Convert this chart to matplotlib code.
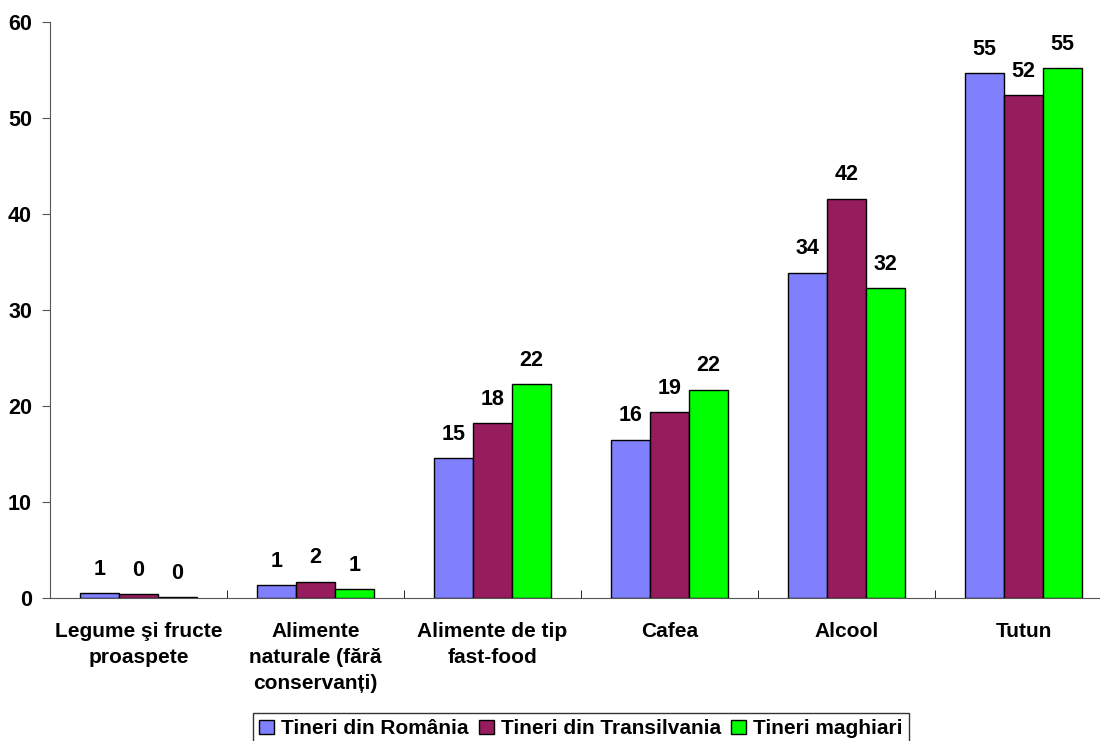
import numpy as np
import matplotlib
matplotlib.use('Agg')
import matplotlib.pyplot as plt

plt.rcParams['font.family'] = ['Liberation Sans', 'DejaVu Sans']
plt.rcParams['font.weight'] = 'bold'

# date
categorii = ['Legume şi fructe\nproaspete', 'Alimente\nnaturale (fără\nconservanți)',
             'Alimente de tip\nfast-food', 'Cafea', 'Alcool', 'Tutun']
serii = ['Tineri din România', 'Tineri din Transilvania', 'Tineri maghiari']
romania = [0.55, 1.35, 14.6, 16.5, 33.9, 54.7]
transilvania = [0.4, 1.7, 18.2, 19.4, 41.6, 52.4]
maghiari = [0.1, 0.9, 22.3, 21.7, 32.3, 55.2]
culori = ['#8080FF', '#961C5E', '#00FF00']

fig = plt.figure(figsize=(11, 7.41), dpi=100)
ax = fig.add_axes([50/1100, 143/741, 1062/1100, 576/741])

x = np.arange(len(categorii))
w = 0.22
for i, (vals, c, nume) in enumerate(zip([romania, transilvania, maghiari], culori, serii)):
    bare = ax.bar(x + (i-1)*w, vals, w, color=c, edgecolor='black', linewidth=1, label=nume)
    for b, v in zip(bare, vals):
        ax.annotate('%.0f' % v, (b.get_x() + b.get_width()/2, v), xytext=(0, 9.5),
                    textcoords='offset points', ha='center', va='bottom',
                    fontsize=15.5, fontweight='bold')

ax.set_xlim(-0.5, 5.5)
ax.set_ylim(0, 60)
ax.set_yticks(range(0, 61, 10))
ax.set_xticks(x)
ax.set_xticklabels(categorii, fontsize=15, fontweight='bold', linespacing=1.48)
ax.set_xticks(np.arange(0.5, 5.5, 1), minor=True)
ax.tick_params(axis='x', which='major', length=0, pad=17)
ax.tick_params(axis='x', which='minor', length=6, direction='in', color='black')
ax.tick_params(axis='y', length=6, direction='out', pad=7, labelsize=15.5, color='#555555')
for l in ax.get_yticklabels():
    l.set_fontweight('bold')
ax.spines['top'].set_visible(False)
ax.spines['right'].set_visible(False)
ax.spines['left'].set_color('#555555')
ax.spines['bottom'].set_color('#555555')

leg = fig.legend(loc='upper left', bbox_to_anchor=(253/1100, 1 - 713/741), ncol=3,
                 frameon=True, fancybox=False, edgecolor='black', borderaxespad=0,
                 handlelength=0.7, handleheight=0.7, handletextpad=0.35,
                 columnspacing=0.5, borderpad=0.3,
                 prop={'size': 15, 'weight': 'bold'})
leg.get_frame().set_linewidth(1)

fig.savefig('out.png', dpi=100)
